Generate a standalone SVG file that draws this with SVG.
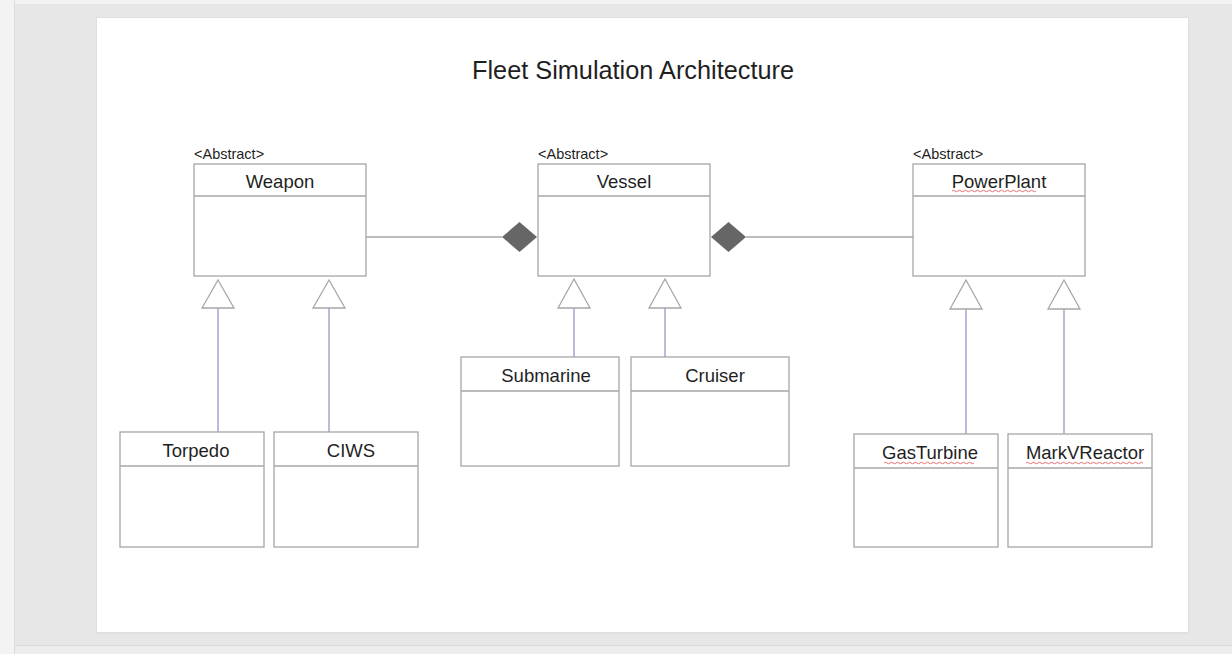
<svg xmlns="http://www.w3.org/2000/svg" width="1232" height="654" viewBox="0 0 1232 654">
<style>
.box{fill:#fff;stroke:#a6a6a6;stroke-width:1.3}
.div{stroke:#a6a6a6;stroke-width:1.3}
.name{font-family:"Liberation Sans",Arial,sans-serif;font-size:18.5px;fill:#1f1f1f;text-anchor:middle}
.abs{font-family:"Liberation Sans",Arial,sans-serif;font-size:14.5px;fill:#1f1f1f}
.title{font-family:"Liberation Sans",Arial,sans-serif;font-size:25.3px;fill:#1f1f1f;text-anchor:middle}
.assoc{stroke:#a6a6a6;stroke-width:1.3;fill:none}
.inh{stroke:#9a97c4;stroke-width:1.3;fill:none}
.tri{fill:#fff;stroke:#a6a6a6;stroke-width:1.3}
.dia{fill:#666;stroke:none}
.squig{fill:none;stroke:#e06060;stroke-width:0.9}
</style>
<rect x="0" y="0" width="1232" height="654" fill="#e7e7e7"/>
<rect x="0" y="0" width="1232" height="4" fill="#f2f2f2"/>
<rect x="0" y="0" width="14" height="654" fill="#f3f3f3"/>
<line x1="14.5" y1="0" x2="14.5" y2="654" stroke="#dcdcdc"/>
<rect x="15" y="645" width="1217" height="9" fill="#ededed"/>
<line x1="15" y1="645.5" x2="1232" y2="645.5" stroke="#dadada"/>
<rect x="96" y="17" width="1093" height="617" fill="#dcdcdc" opacity="0.6"/>
<rect x="97" y="18" width="1091" height="614" fill="#fff"/>
<text class="title" x="633" y="79">Fleet Simulation Architecture</text>

<g id="connectors">
<line class="assoc" x1="366" y1="237" x2="502" y2="237"/>
<polygon class="dia" points="502,237 519.5,222 537,237 519.5,252"/>
<line class="assoc" x1="746" y1="237" x2="913" y2="237"/>
<polygon class="dia" points="711,237 728.5,222 746,237 728.5,252"/>
<line class="inh" x1="218" y1="308" x2="218" y2="432"/>
<polygon class="tri" points="218,280 202,308 234,308"/>
<line class="inh" x1="329" y1="308" x2="329" y2="432"/>
<polygon class="tri" points="329,280 313,308 345,308"/>
<line class="inh" x1="574" y1="308" x2="574" y2="357"/>
<polygon class="tri" points="574,279 558,308 590,308"/>
<line class="inh" x1="665" y1="308" x2="665" y2="357"/>
<polygon class="tri" points="665,279 649,308 681,308"/>
<line class="inh" x1="966" y1="309" x2="966" y2="434"/>
<polygon class="tri" points="966,280 950,309 982,309"/>
<line class="inh" x1="1064" y1="309" x2="1064" y2="434"/>
<polygon class="tri" points="1064,280 1048,309 1080,309"/>
</g>

<g id="weapon">
<text class="abs" x="194" y="159">&lt;Abstract&gt;</text>
<rect class="box" x="194" y="164" width="172" height="112"/>
<line class="div" x1="194" y1="196" x2="366" y2="196"/>
<text class="name" x="280" y="188">Weapon</text>
</g>
<g id="vessel">
<text class="abs" x="538" y="159">&lt;Abstract&gt;</text>
<rect class="box" x="538" y="164" width="172" height="112"/>
<line class="div" x1="538" y1="196" x2="710" y2="196"/>
<text class="name" x="624" y="188">Vessel</text>
</g>
<g id="powerplant">
<text class="abs" x="913" y="159">&lt;Abstract&gt;</text>
<rect class="box" x="913" y="164" width="172" height="112"/>
<line class="div" x1="913" y1="196" x2="1085" y2="196"/>
<text class="name" x="999" y="188">PowerPlant</text>
<path class="squig" d="M952,191 q1.5,-1.5 3,0 t3,0 t3,0 t3,0 t3,0 t3,0 t3,0 t3,0 t3,0 t3,0 t3,0 t3,0 t3,0 t3,0 t3,0 t3,0 t3,0 t3,0 t3,0 t3,0 t3,0 t3,0 t3,0 t3,0 t3,0 t3,0 t3,0 t3,0"/>
</g>
<g id="torpedo">
<rect class="box" x="120" y="432" width="144" height="115"/>
<line class="div" x1="120" y1="466" x2="264" y2="466"/>
<text class="name" x="196" y="457">Torpedo</text>
</g>
<g id="ciws">
<rect class="box" x="274" y="432" width="144" height="115"/>
<line class="div" x1="274" y1="466" x2="418" y2="466"/>
<text class="name" x="351" y="457">CIWS</text>
</g>
<g id="submarine">
<rect class="box" x="461" y="357" width="158" height="109"/>
<line class="div" x1="461" y1="391" x2="619" y2="391"/>
<text class="name" x="546" y="382">Submarine</text>
</g>
<g id="cruiser">
<rect class="box" x="631" y="357" width="158" height="109"/>
<line class="div" x1="631" y1="391" x2="789" y2="391"/>
<text class="name" x="715" y="382">Cruiser</text>
</g>
<g id="gasturbine">
<rect class="box" x="854" y="434" width="144" height="113"/>
<line class="div" x1="854" y1="468" x2="998" y2="468"/>
<text class="name" x="930" y="459">GasTurbine</text>
<path class="squig" d="M884,463 q1.5,-1.5 3,0 t3,0 t3,0 t3,0 t3,0 t3,0 t3,0 t3,0 t3,0 t3,0 t3,0 t3,0 t3,0 t3,0 t3,0 t3,0 t3,0 t3,0 t3,0 t3,0 t3,0 t3,0 t3,0 t3,0 t3,0 t3,0 t3,0 t3,0 t3,0 t3,0"/>
</g>
<g id="markvreactor">
<rect class="box" x="1008" y="434" width="144" height="113"/>
<line class="div" x1="1008" y1="468" x2="1152" y2="468"/>
<text class="name" x="1085" y="459">MarkVReactor</text>
<path class="squig" d="M1026,463 q1.5,-1.5 3,0 t3,0 t3,0 t3,0 t3,0 t3,0 t3,0 t3,0 t3,0 t3,0 t3,0 t3,0 t3,0 t3,0 t3,0 t3,0 t3,0 t3,0 t3,0 t3,0 t3,0 t3,0 t3,0 t3,0 t3,0 t3,0 t3,0 t3,0 t3,0 t3,0 t3,0 t3,0 t3,0 t3,0 t3,0 t3,0 t3,0 t3,0 t3,0"/>
</g>
</svg>
